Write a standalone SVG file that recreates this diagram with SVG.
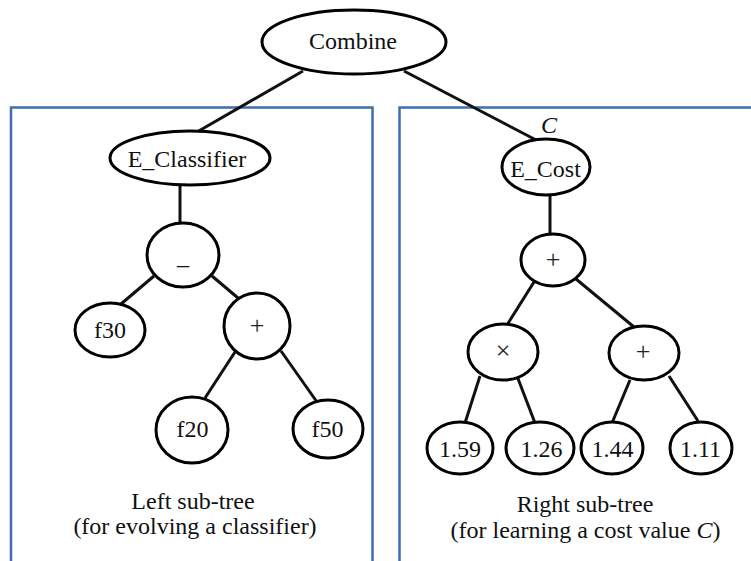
<svg xmlns="http://www.w3.org/2000/svg" width="751" height="561" viewBox="0 0 751 561">
  <style>
    .frame { fill: none; stroke: #3f6db0; stroke-width: 2.5; }
    .node { fill: #ffffff; stroke: #000000; stroke-width: 3; }
    .edge { stroke: #111111; stroke-width: 3; fill: none; }
    text { font-family: "Liberation Serif", Tinos, "DejaVu Serif", serif; fill: #111111; text-anchor: middle; }
    .lbl { font-size: 24px; }
    .op { font-size: 26px; fill: #222222; }
    .cap { font-size: 24px; }
  </style>
  <rect width="751" height="561" fill="#ffffff"/>

  <!-- sub-tree frames (open at the bottom) -->
  <g id="frames">
    <path class="frame" d="M11,563 V107.5 H372.5 V563"/>
    <path class="frame" d="M399.5,563 V107.5 H753"/>
  </g>

  <!-- connectors -->
  <g id="connectors">
    <line class="edge" x1="303" y1="71" x2="197" y2="132"/>
    <line class="edge" x1="404" y1="71" x2="538" y2="141"/>
    <line class="edge" x1="180" y1="184" x2="180" y2="224"/>
    <line class="edge" x1="154" y1="276" x2="121" y2="304"/>
    <line class="edge" x1="212" y1="276" x2="238" y2="298"/>
    <line class="edge" x1="235" y1="352" x2="205" y2="398"/>
    <line class="edge" x1="281" y1="351" x2="317" y2="402"/>
    <line class="edge" x1="550" y1="194" x2="550" y2="234"/>
    <line class="edge" x1="534" y1="282" x2="507" y2="325"/>
    <line class="edge" x1="576" y1="279" x2="634" y2="327"/>
    <line class="edge" x1="480" y1="376" x2="465" y2="423"/>
    <line class="edge" x1="517" y1="376" x2="535" y2="423"/>
    <line class="edge" x1="630" y1="380" x2="612" y2="423"/>
    <line class="edge" x1="669" y1="376" x2="698" y2="421"/>
  </g>

  <g id="n-combine">
    <ellipse class="node" cx="354" cy="42" rx="92" ry="32"/>
    <text class="lbl" x="353" y="49">Combine</text>
  </g>

  <g id="n-eclassifier">
    <ellipse class="node" cx="190" cy="158" rx="80" ry="27"/>
    <text class="lbl" x="187" y="167">E_Classifier</text>
  </g>

  <g id="n-minus">
    <ellipse class="node" cx="183" cy="255" rx="36" ry="32"/>
    <text class="lbl" x="183" y="264">_</text>
  </g>

  <g id="n-f30">
    <ellipse class="node" cx="110" cy="330" rx="35" ry="27"/>
    <text class="lbl" x="110" y="338">f30</text>
  </g>

  <g id="n-plus-left">
    <ellipse class="node" cx="257" cy="326" rx="33" ry="33"/>
    <text class="op" x="257" y="333.5">+</text>
  </g>

  <g id="n-f20">
    <ellipse class="node" cx="192" cy="430" rx="36" ry="33"/>
    <text class="lbl" x="192.5" y="437">f20</text>
  </g>

  <g id="n-f50">
    <ellipse class="node" cx="328" cy="429" rx="35" ry="29"/>
    <text class="lbl" x="327.5" y="437">f50</text>
  </g>

  <g id="n-ecost">
    <text class="lbl" x="549" y="133" font-style="italic">C</text>
    <ellipse class="node" cx="546" cy="167" rx="44" ry="28"/>
    <text class="lbl" x="545.5" y="177">E_Cost</text>
  </g>

  <g id="n-plus-top">
    <ellipse class="node" cx="553" cy="260" rx="32" ry="26"/>
    <text class="op" x="553" y="267.5">+</text>
  </g>

  <g id="n-times">
    <ellipse class="node" cx="503" cy="352" rx="35" ry="28"/>
    <text class="op" x="503" y="358.5">×</text>
  </g>

  <g id="n-plus-right">
    <ellipse class="node" cx="644" cy="353" rx="35" ry="27"/>
    <text class="op" x="643" y="359.5">+</text>
  </g>

  <g id="n-159">
    <ellipse class="node" cx="460" cy="448" rx="33" ry="26"/>
    <text class="lbl" x="460" y="457">1.59</text>
  </g>

  <g id="n-126">
    <ellipse class="node" cx="540" cy="448" rx="34" ry="26"/>
    <text class="lbl" x="541.5" y="457">1.26</text>
  </g>

  <g id="n-144">
    <ellipse class="node" cx="612" cy="448" rx="31" ry="26"/>
    <text class="lbl" x="612.5" y="457">1.44</text>
  </g>

  <g id="n-111">
    <ellipse class="node" cx="701" cy="448" rx="31" ry="26"/>
    <text class="lbl" x="700.5" y="457">1.11</text>
  </g>

  <!-- captions -->
  <g id="captions">
    <text class="cap" x="193" y="509">Left sub-tree</text>
    <text class="cap" x="195" y="534">(for evolving a classifier)</text>
    <text class="cap" x="585" y="512">Right sub-tree</text>
    <text class="cap" x="585.5" y="538">(for learning a cost value <tspan font-style="italic">C</tspan>)</text>
  </g>
</svg>
